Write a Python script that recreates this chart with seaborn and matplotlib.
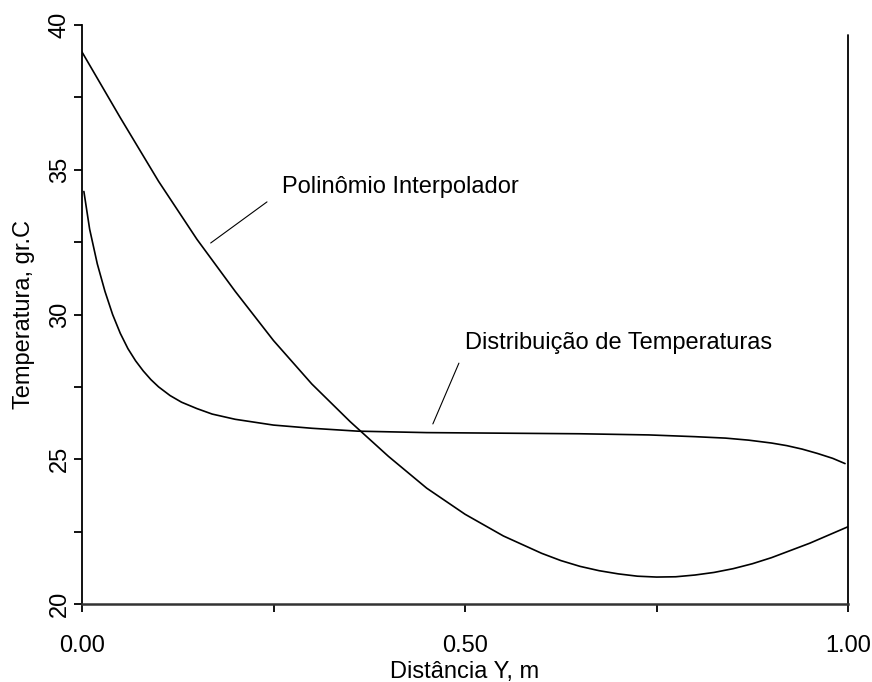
import matplotlib
matplotlib.use("Agg")
import matplotlib.pyplot as plt
from matplotlib.ticker import MultipleLocator, FixedLocator, FixedFormatter
import seaborn as sns
import pandas as pd

# Polinômio interpolador: temperatura (gr.C) ao longo de Y (m)
poly_y = [0.00, 0.05, 0.10, 0.15, 0.20, 0.25, 0.30, 0.35, 0.40, 0.45, 0.50,
          0.55, 0.60, 0.625, 0.65, 0.675, 0.70, 0.725, 0.75, 0.775, 0.80,
          0.825, 0.85, 0.875, 0.90, 0.95, 1.00]
poly_t = [39.07, 36.80, 34.60, 32.60, 30.80, 29.10, 27.60, 26.30, 25.10, 24.00, 23.10,
          22.35, 21.75, 21.50, 21.30, 21.15, 21.04, 20.96, 20.93, 20.94, 21.00,
          21.09, 21.22, 21.39, 21.60, 22.10, 22.67]

# Distribuição de temperaturas
dist_y = [0.0025, 0.01, 0.02, 0.03, 0.04, 0.05, 0.06, 0.07, 0.08, 0.09, 0.10,
          0.115, 0.13, 0.15, 0.17, 0.20, 0.25, 0.30, 0.36, 0.45, 0.55, 0.65,
          0.74, 0.80, 0.84, 0.87, 0.90, 0.92, 0.94, 0.96, 0.98, 0.996]
dist_t = [34.25, 32.95, 31.75, 30.80, 30.00, 29.35, 28.82, 28.40, 28.05, 27.75, 27.50,
          27.20, 26.97, 26.75, 26.56, 26.38, 26.18, 26.07, 25.97, 25.92, 25.90, 25.88,
          25.84, 25.78, 25.73, 25.66, 25.56, 25.47, 25.35, 25.20, 25.03, 24.85]

x_tick_values = [0.0, 0.5, 1.0]
x_tick_labels = ["0.00", "0.50", "1.00"]
y_tick_values = [20, 25, 30, 35, 40]

sns.set_style("ticks")
plt.rcParams["font.family"] = ["Liberation Sans", "DejaVu Sans"]
plt.rcParams["font.size"] = 17
plt.rcParams["text.color"] = "black"
plt.rcParams["axes.labelcolor"] = "black"
plt.rcParams["xtick.color"] = "black"
plt.rcParams["ytick.color"] = "black"

fig = plt.figure(figsize=(8.72, 6.82), dpi=100)
ax = fig.add_axes([0.094, 0.1144, 0.8786, 0.8489])

df_poly = pd.DataFrame({"Y": poly_y, "T": poly_t})
df_dist = pd.DataFrame({"Y": dist_y, "T": dist_t})
sns.lineplot(data=df_poly, x="Y", y="T", color="black", linewidth=1.2, ax=ax)
sns.lineplot(data=df_dist, x="Y", y="T", color="black", linewidth=1.2, ax=ax)

ax.set_xlim(0, 1)
ax.set_ylim(20, 40)

# Right boundary line at Y = 1
ax.plot([1.0, 1.0], [20, 39.65], color="black", linewidth=1.3, clip_on=False)

# Spines
for side in ("top", "right"):
    ax.spines[side].set_visible(False)
ax.spines["left"].set_color("black")
ax.spines["left"].set_linewidth(1.3)
ax.spines["bottom"].set_color("#333333")
ax.spines["bottom"].set_linewidth(1.8)

# Ticks
ax.xaxis.set_major_locator(FixedLocator(x_tick_values))
ax.xaxis.set_major_formatter(FixedFormatter(x_tick_labels))
ax.xaxis.set_minor_locator(FixedLocator([0.25, 0.75]))
ax.yaxis.set_major_locator(FixedLocator(y_tick_values))
ax.yaxis.set_minor_locator(MultipleLocator(2.5))
ax.tick_params(axis="both", which="both", direction="out", length=6,
               width=1.3, color="black", labelcolor="black", labelsize=17)
ax.tick_params(axis="x", which="major", pad=16)
ax.tick_params(axis="y", which="major", pad=2)
for lbl in ax.get_yticklabels():
    lbl.set_rotation(90)
    lbl.set_va("center")

ax.set_xlabel("Distância Y, m", fontsize=17, labelpad=3)
ax.set_ylabel("Temperatura, gr.C", fontsize=17, labelpad=10)

# Curve labels with leader lines
ax.text(0.261, 34.40, "Polinômio Interpolador", fontsize=17, va="center", ha="left")
ax.plot([0.168, 0.2415], [32.47, 33.89], color="black", linewidth=0.8)
ax.text(0.500, 29.02, "Distribuição de Temperaturas", fontsize=17, va="center", ha="left")
ax.plot([0.458, 0.492], [26.22, 28.32], color="black", linewidth=0.8)

fig.savefig("out.png", dpi=100, facecolor="white")
